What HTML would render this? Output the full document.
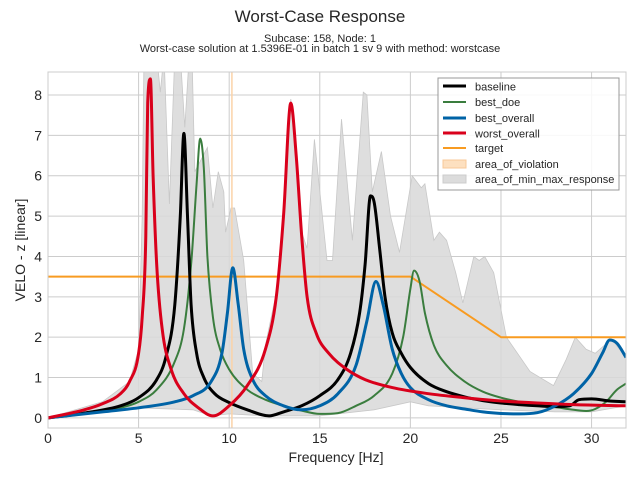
<!DOCTYPE html>
<html><head><meta charset="utf-8"><style>
body{margin:0;background:#fff;width:640px;height:480px;overflow:hidden;font-family:"Liberation Sans",sans-serif}
svg text{font-family:"Liberation Sans",sans-serif;fill:#262626}
</style></head><body>
<svg id="chart" width="640" height="480">
<text x="320" y="22" text-anchor="middle" font-size="17">Worst-Case Response</text>
<text x="320" y="42" text-anchor="middle" font-size="11">Subcase: 158, Node: 1</text>
<text x="320" y="52" text-anchor="middle" font-size="11">Worst-case solution at 1.5396E-01 in batch 1 sv 9 with method: worstcase</text>
<g id="grid"></g>
<g id="plot"></g>
<rect x="48" y="72" width="578" height="356" fill="none" stroke="#cccccc" stroke-width="1"/>
<g id="ticks"></g>
<text x="336" y="462" text-anchor="middle" font-size="14">Frequency [Hz]</text>
<text transform="translate(25,250) rotate(-90)" text-anchor="middle" font-size="14">VELO - z [linear]</text>
<g>
<rect x="438" y="78" width="181" height="112" fill="#fff" fill-opacity="0.85" stroke="#999"/>
<g><line x1="443" x2="466" y1="86" y2="86" stroke="#000" stroke-width="3"/><text x="475" y="90.5" font-size="11">baseline</text></g>
<g><line x1="443" x2="466" y1="102" y2="102" stroke="#3a7d3e" stroke-width="2"/><text x="475" y="106" font-size="11">best_doe</text></g>
<g><line x1="443" x2="466" y1="118" y2="118" stroke="#0063a6" stroke-width="3"/><text x="475" y="122" font-size="11">best_overall</text></g>
<g><line x1="443" x2="466" y1="133" y2="133" stroke="#d9001b" stroke-width="3"/><text x="475" y="137.5" font-size="11">worst_overall</text></g>
<g><line x1="443" x2="466" y1="148" y2="148" stroke="#f89b21" stroke-width="2"/><text x="475" y="152" font-size="11">target</text></g>
<g><rect x="443" y="160" width="23" height="8" fill="#fde0c0" stroke="#f8c998"/><text x="475" y="168" font-size="11">area_of_violation</text></g>
<g><rect x="443" y="175" width="23" height="8" fill="#dcdcdc" stroke="#ccc"/><text x="475" y="183" font-size="11">area_of_min_max_response</text></g>
</g>
</svg>
<script>
const xTicks=[0,5,10,15,20,25,30];
const yTicks=[0,1,2,3,4,5,6,7,8];
const baseline=[[0,0],[2,0.12],[4,0.3],[5,0.5],[6,0.95],[6.5,1.5],[7,2.8],[7.3,5],[7.5,7.05],[7.7,5],[7.9,2.8],[8.2,1.6],[8.6,1.0],[9.2,0.6],[10,0.38],[11,0.2],[12.2,0.05],[13,0.15],[14,0.3],[15,0.55],[16,0.95],[16.7,1.6],[17.2,2.6],[17.5,3.8],[17.8,5.5],[18,5.35],[18.3,4.2],[18.6,3.0],[19,2.1],[19.5,1.6],[20,1.25],[21,0.85],[22,0.65],[23,0.52],[24,0.43],[25,0.37],[26,0.33],[27,0.3],[28,0.28],[28.8,0.3],[29.3,0.45],[30,0.47],[31,0.42],[31.9,0.4]];
const bestDoe=[[0,0],[2,0.1],[4,0.25],[5,0.4],[6,0.7],[7,1.4],[7.5,2.2],[7.9,3.8],[8.2,5.8],[8.4,6.92],[8.6,6.2],[8.8,4],[9.1,2.5],[9.5,1.7],[10,1.2],[11,0.7],[12,0.45],[13,0.3],[14,0.18],[15,0.1],[16,0.12],[17,0.3],[18,0.55],[19,1.1],[19.6,2],[20,3.2],[20.2,3.65],[20.5,3.4],[20.8,2.6],[21.3,1.8],[22,1.3],[23,0.9],[24,0.65],[25,0.5],[26,0.4],[27,0.33],[28,0.27],[29,0.2],[29.7,0.17],[30.2,0.22],[30.8,0.4],[31.4,0.7],[31.9,0.85]];
const bestOverall=[[0,0],[3,0.15],[5,0.25],[7,0.4],[8,0.55],[9,0.9],[9.6,1.6],[9.9,2.6],[10.2,3.72],[10.5,2.8],[10.8,1.7],[11.3,0.95],[12,0.55],[13,0.3],[14,0.2],[15,0.3],[16,0.6],[17,1.3],[17.6,2.4],[18.1,3.38],[18.5,2.8],[19,1.7],[19.5,1.1],[20,0.75],[21,0.45],[22,0.3],[23,0.22],[24,0.15],[25,0.11],[26,0.1],[27,0.13],[28,0.3],[29,0.6],[30,1.1],[30.6,1.6],[31,1.93],[31.4,1.85],[31.9,1.5]];
const worstOverall=[[0,0],[2,0.2],[3,0.35],[4,0.6],[4.5,0.9],[5,1.6],[5.2,2.5],[5.4,4.5],[5.5,7.8],[5.65,8.4],[5.8,6],[6,3.8],[6.3,2.2],[6.8,1.2],[7.5,0.6],[8.3,0.25],[9.1,0.05],[10,0.3],[11,0.8],[12,1.7],[12.6,3],[13,5],[13.4,7.8],[13.7,6.5],[14,4.5],[14.3,3],[14.8,2.1],[15.5,1.6],[16.5,1.2],[17.5,0.95],[19,0.75],[21,0.6],[23,0.5],[25,0.42],[27,0.37],[29,0.33],[31.9,0.3]];
const target=[[0,3.5],[20,3.5],[25,2],[31.9,2]];
const areaUpper=[[0,0],[3,0.4],[4.5,0.9],[5,1.7],[5.2,5],[5.3,9],[6.0,9],[6.2,8.07],[6.4,9],[6.7,5.3],[7.0,9],[7.3,9],[7.55,7.2],[7.8,9],[7.95,9],[8.1,6.1],[8.8,6.7],[9.1,5.2],[9.4,6.1],[9.7,5.6],[9.8,4.6],[10.1,5.2],[10.3,5.2],[10.8,3.9],[11.3,1.1],[11.8,0.9],[12,1.8],[12.6,3.1],[13,5.1],[13.4,7.9],[13.7,6.6],[14,4.6],[14.3,4.2],[14.7,6.9],[15.4,3.9],[15.7,3.9],[16.2,7.4],[16.8,4.4],[17.4,8.07],[17.6,8.0],[17.9,5.6],[18.4,6.6],[18.9,5.0],[19.4,4.1],[20.1,6.0],[20.6,5.7],[20.8,5.8],[21.3,4.4],[21.6,4.6],[22.0,4.4],[22.5,3.6],[22.9,2.85],[23.5,4.0],[23.8,3.9],[24.1,4.0],[24.6,3.6],[25.3,2.0],[26.6,1.15],[27.9,0.8],[28.6,1.45],[29.1,2.0],[29.7,1.7],[30.2,1.6],[31.1,1.95],[31.9,1.5]];
const areaLower=[[0,0],[5,0.25],[8,0.2],[9,0.05],[10,0.1],[12,0.05],[15,0.05],[18,0.2],[20,0.4],[21,0.3],[25,0.2],[28,0.15],[30,0.15],[31.9,0.3]];
const violationFreq=[10.15];
const X0=48,X1=626,XMAX=31.9,YMIN=-0.25,YMAX=8.57,Y0=428,Y1=72;
const xs=f=>X0+f/XMAX*(X1-X0);
const ys=v=>Y0-(v-YMIN)/(YMAX-YMIN)*(Y0-Y1);
const NS="http://www.w3.org/2000/svg";
function mk(tag,attrs,parent){const e=document.createElementNS(NS,tag);for(const k in attrs)e.setAttribute(k,attrs[k]);parent.appendChild(e);return e;}
const grid=document.getElementById('grid'),plot=document.getElementById('plot'),ticks=document.getElementById('ticks');
const clip=mk('clipPath',{id:'pc'},document.getElementById('chart'));mk('rect',{x:X0,y:Y1,width:X1-X0,height:Y0-Y1},clip);
plot.setAttribute('clip-path','url(#pc)');
xTicks.forEach(t=>{const l=mk('line',{x1:xs(t),x2:xs(t),y1:Y1,y2:Y0,stroke:'#cccccc'},grid);


const tx=mk('text',{x:xs(t),y:443,'text-anchor':'middle','font-size':14},ticks);tx.textContent=t;

});
yTicks.forEach(t=>{const l=mk('line',{x1:X0,x2:X1,y1:ys(t),y2:ys(t),stroke:'#cccccc'},grid);


const tx=mk('text',{x:42,y:ys(t)+5,'text-anchor':'end','font-size':14},ticks);tx.textContent=t;

});
const pts=a=>a.map(p=>xs(p[0]).toFixed(1)+','+ys(p[1]).toFixed(1));
// monotone cubic path in pixel space
function smoothPath(a){
  const P=a.map(p=>[xs(p[0]),ys(p[1])]);const n=P.length;
  const d=[],m=[];
  for(let i=0;i<n-1;i++)d.push((P[i+1][1]-P[i][1])/(P[i+1][0]-P[i][0]));
  m[0]=d[0];m[n-1]=d[n-2];
  for(let i=1;i<n-1;i++){m[i]=(d[i-1]*d[i]<=0)?0:(d[i-1]+d[i])/2;}
  for(let i=0;i<n-1;i++){if(d[i]===0){m[i]=0;m[i+1]=0;continue;}
    const a1=m[i]/d[i],b1=m[i+1]/d[i],s=a1*a1+b1*b1;if(s>9){const t=3/Math.sqrt(s);m[i]=t*a1*d[i];m[i+1]=t*b1*d[i];}}
  let s='M'+P[0][0].toFixed(1)+','+P[0][1].toFixed(1);
  for(let i=0;i<n-1;i++){const h=(P[i+1][0]-P[i][0])/3;
    s+=' C'+(P[i][0]+h).toFixed(1)+','+(P[i][1]+m[i]*h).toFixed(1)+' '+(P[i+1][0]-h).toFixed(1)+','+(P[i+1][1]-m[i+1]*h).toFixed(1)+' '+P[i+1][0].toFixed(1)+','+P[i+1][1].toFixed(1);}
  return s;}
const area=mk('polygon',{points:pts(areaUpper).concat(pts(areaLower.slice().reverse())).join(' '),fill:'#d8d8d8','fill-opacity':0.85,stroke:'#c8c8c8','stroke-width':0.8},plot);


violationFreq.forEach(f=>{const v=mk('line',{x1:xs(f),x2:xs(f),y1:Y1,y2:Y0,stroke:'#fbd3a8','stroke-width':1.5},plot);

});
function line(a,c,w,name,smooth){const p=mk('path',{d:smooth?smoothPath(a):'M'+pts(a).join(' L'),fill:'none',stroke:c,'stroke-width':w,'stroke-linejoin':'round'},plot);

}
line(target,'#f89b21',2,'target-line',false);
line(bestDoe,'#3a7d3e',2,'best-doe-line',true);
line(baseline,'#000000',3,'baseline-line',true);
line(bestOverall,'#0063a6',3,'best-overall-line',true);
line(worstOverall,'#d9001b',3,'worst-overall-line',true);
</script>
</body></html>
